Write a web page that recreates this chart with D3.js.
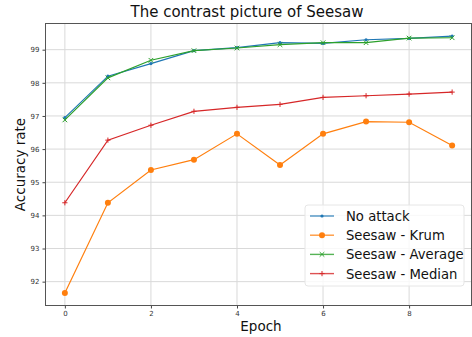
<!DOCTYPE html>
<html>
<head>
<meta charset="utf-8">
<script src="https://cdn.jsdelivr.net/npm/d3@7"></script>
<style>
  html, body { margin: 0; padding: 0; background: #fff; }
  svg { display: block; font-family: "DejaVu Sans", sans-serif; }
</style>
</head>
<body>
<svg id="chart" width="472" height="337"></svg>
<script>
// Test accuracy per epoch for each aggregation setting
const epochs = [0, 1, 2, 3, 4, 5, 6, 7, 8, 9];
const noAttack      = [96.95, 98.20, 98.58, 98.97, 99.06, 99.21, 99.19, 99.30, 99.34, 99.41];
const seesawKrum    = [91.66, 94.38, 95.37, 95.68, 96.46, 95.52, 96.46, 96.83, 96.81, 96.11];
const seesawAverage = [96.88, 98.15, 98.68, 98.97, 99.05, 99.15, 99.21, 99.21, 99.35, 99.36];
const seesawMedian  = [94.38, 96.27, 96.72, 97.14, 97.26, 97.35, 97.56, 97.61, 97.66, 97.72];
const seriesNames   = ["No attack", "Seesaw - Krum", "Seesaw - Average", "Seesaw - Median"];
const xTicks = [0, 2, 4, 6, 8];
const yTicks = [92, 93, 94, 95, 96, 97, 98, 99];

const series = [
  { name: seriesNames[0], values: noAttack,      color: "#1f77b4", marker: "dot" },
  { name: seriesNames[1], values: seesawKrum,    color: "#ff7f0e", marker: "circle" },
  { name: seriesNames[2], values: seesawAverage, color: "#2ca02c", marker: "x" },
  { name: seriesNames[3], values: seesawMedian,  color: "#d62728", marker: "plus" }
];

const svg = d3.select("#chart");
const plot = { left: 45.5, top: 23.5, right: 471.5, bottom: 305.5 };

const x = d3.scaleLinear().domain([-0.45, 9.45]).range([plot.left, plot.right]);
const y = d3.scaleLinear().domain([91.28, 99.79]).range([plot.bottom, plot.top]);

// grid
const grid = svg.append("g");
grid.selectAll("line.vx").data(xTicks).join("line")
  .attr("x1", d => x(d)).attr("x2", d => x(d))
  .attr("y1", plot.top).attr("y2", plot.bottom)
  .attr("stroke", "#d9d9d9").attr("stroke-width", 1);
grid.selectAll("line.hy").data(yTicks).join("line")
  .attr("x1", plot.left).attr("x2", plot.right)
  .attr("y1", d => y(d)).attr("y2", d => y(d))
  .attr("stroke", "#d9d9d9").attr("stroke-width", 1);

// axes
const xAxis = svg.append("g")
  .attr("transform", `translate(0,${plot.bottom})`)
  .call(d3.axisBottom(x).tickValues(xTicks).tickSize(3).tickPadding(3).tickFormat(d3.format("d")));
const yAxis = svg.append("g")
  .attr("transform", `translate(${plot.left},0)`)
  .call(d3.axisLeft(y).tickValues(yTicks).tickSize(3).tickPadding(3).tickFormat(d3.format("d")));
[xAxis, yAxis].forEach(g => {
  g.select(".domain").remove();
  g.selectAll(".tick line").attr("stroke", "#444");
  g.selectAll(".tick text").attr("fill", "#333").style("font-size", "7px")
    .style("font-family", "DejaVu Sans, sans-serif");
});

// frame
svg.append("rect")
  .attr("x", plot.left).attr("y", plot.top)
  .attr("width", plot.right - plot.left).attr("height", plot.bottom - plot.top)
  .attr("fill", "none").attr("stroke", "#555").attr("stroke-width", 1);

function drawMarker(g, type, cx, cy, color) {
  if (type === "dot") {
    g.append("circle").attr("cx", cx).attr("cy", cy).attr("r", 1.6).attr("fill", color);
  } else if (type === "circle") {
    g.append("circle").attr("cx", cx).attr("cy", cy).attr("r", 3).attr("fill", color);
  } else if (type === "x") {
    const s = 2.3;
    g.append("path").attr("d", `M${cx - s},${cy - s}L${cx + s},${cy + s}M${cx - s},${cy + s}L${cx + s},${cy - s}`)
      .attr("stroke", color).attr("stroke-width", 1);
  } else if (type === "plus") {
    const s = 2.6;
    g.append("path").attr("d", `M${cx - s},${cy}L${cx + s},${cy}M${cx},${cy - s}L${cx},${cy + s}`)
      .attr("stroke", color).attr("stroke-width", 1);
  }
}

const line = d3.line().x((d, i) => x(epochs[i])).y(d => y(d));
series.forEach(s => {
  const g = svg.append("g");
  g.append("path").datum(s.values).attr("d", line)
    .attr("fill", "none").attr("stroke", s.color).attr("stroke-width", 1.2);
  s.values.forEach((v, i) => drawMarker(g, s.marker, x(epochs[i]), y(v), s.color));
});

// title and axis labels
svg.append("text").attr("x", 247).attr("y", 17).attr("text-anchor", "middle")
  .style("font-size", "15px").attr("fill", "#111").text("The contrast picture of Seesaw");
svg.append("text").attr("x", 261).attr("y", 331).attr("text-anchor", "middle")
  .style("font-size", "13.5px").attr("fill", "#111").text("Epoch");
svg.append("text").attr("transform", `translate(25,${(plot.top + plot.bottom) / 2}) rotate(-90)`)
  .attr("text-anchor", "middle").style("font-size", "13.5px").attr("fill", "#111").text("Accuracy rate");

// legend
const legend = svg.append("g");
legend.append("rect").attr("x", 305).attr("y", 205).attr("width", 159).attr("height", 81)
  .attr("rx", 3).attr("fill", "#fff").attr("fill-opacity", 0.8).attr("stroke", "#e6e6e6");
series.forEach((s, i) => {
  const ly = 216 + i * 19.2;
  legend.append("line").attr("x1", 310).attr("x2", 334).attr("y1", ly).attr("y2", ly)
    .attr("stroke", s.color).attr("stroke-width", 1.4).attr("stroke-opacity", 0.8);
  drawMarker(legend, s.marker, 322, ly, s.color);
  legend.append("text").attr("x", 346).attr("y", ly + 5)
    .style("font-size", "13.2px").attr("fill", "#111").text(s.name);
});
</script>
</body>
</html>
